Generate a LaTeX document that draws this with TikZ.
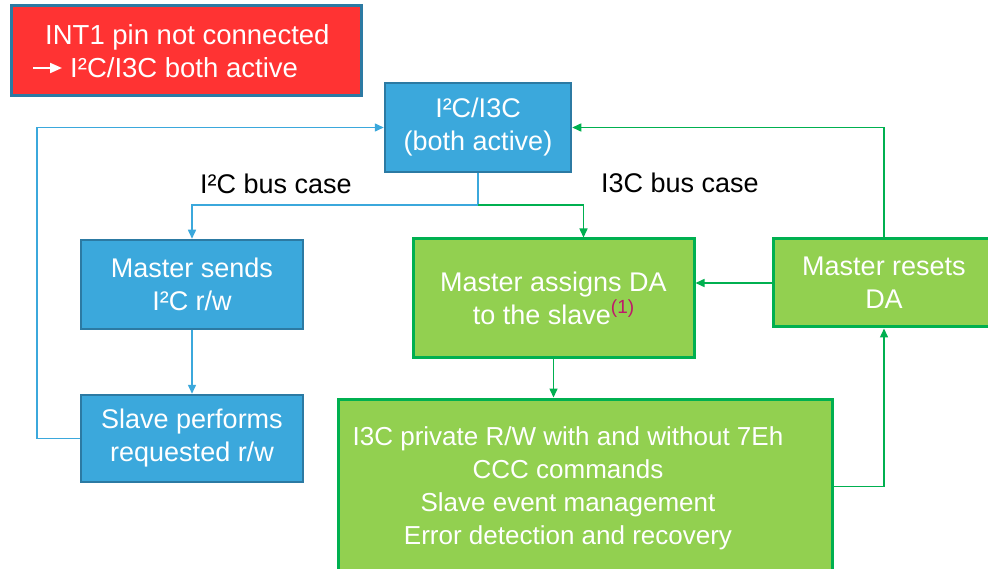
\documentclass[tikz,border=0pt]{standalone}
\usepackage{fontspec}
\setmainfont{Liberation Sans}
\usetikzlibrary{arrows.meta,calc}
\definecolor{bfill}{HTML}{3BA8DC}
\definecolor{bdraw}{HTML}{2C7AA3}
\definecolor{gfill}{HTML}{92D050}
\definecolor{gdraw}{HTML}{00B050}
\definecolor{rfill}{HTML}{FF3333}
\definecolor{supcol}{HTML}{C0186A}
\tikzset{
  box/.style={rectangle, inner sep=0pt, align=center, text=white,
    font=\fontsize{27}{33}\selectfont},
  bluebox/.style={box, fill=bfill, draw=bdraw, line width=2.5pt},
  greenbox/.style={box, fill=gfill, draw=gdraw, line width=3pt},
  bline/.style={draw=bfill, line width=1.5pt, -{Triangle[length=9pt,width=8pt]}},
  gline/.style={draw=gdraw, line width=1.5pt, -{Triangle[length=9pt,width=8pt]}},
  lbl/.style={font=\fontsize{27}{33}\selectfont, text=black, inner sep=0pt},
  redline/.style={box, anchor=base west, font=\fontsize{27.5}{33}\selectfont}
}
\begin{document}
\begin{tikzpicture}[x=1pt,y=-1pt]
\useasboundingbox (0,0) rectangle (988,569);
\clip (0,0) rectangle (988,569);
\fill[white] (0,0) rectangle (988,569);
% red note
\node[box, fill=rfill, draw=bdraw, line width=3pt, minimum width=350pt, minimum height=90pt] (red) at (186,51) {};
\node[redline] (red1) at (45,45) {INT1 pin not connected};
\node[redline] (red2) at (70,78) {I²C/I3C both active};
\draw[white, line width=2pt, -{Triangle[length=12pt,width=10pt]}] (33,68) -- (62,68);
% boxes
\node[bluebox, minimum width=186pt, minimum height=89pt] (top) at (478,127.5) {I²C/I3C\\(both active)};
\node[bluebox, minimum width=222pt, minimum height=89pt] (ms) at (192,284.5) {Master sends\\I²C r/w};
\node[bluebox, minimum width=222pt, minimum height=87pt] (sp) at (192,438.5) {Slave performs\\requested r/w};
\node[greenbox, minimum width=281pt, minimum height=118pt] (ma) at (553.5,298) {Master assigns DA\\to the slave\raisebox{11pt}{\textcolor{supcol}{\fontsize{19}{19}\selectfont(1)}}};
\node[greenbox, minimum width=222pt, minimum height=88pt] (mr) at (884,283) {Master resets\\DA};
\node[greenbox, minimum width=494pt, minimum height=181pt] (bot) at (585,489.5) {};
\node[box, font=\fontsize{26}{33}\selectfont] (bottxt) at (568,488) {I3C private R/W with and without 7Eh\\CCC commands\\Slave event management\\Error detection and recovery};
% labels
\node[lbl] (l1) at (276,184) {I²C bus case};
\node[lbl] (l2) at (680,183) {I3C bus case};
% connectors
\coordinate (split) at (478,205);
\draw[bline] (top.south) -- (split) -| (ms.north);
\draw[gline] (split) -| ([xshift=30pt]ma.north);
\draw[bline] (ms.south) -- (sp.north);
\draw[bline] (sp.west) -- ++(-43,0) |- (top.west);
\draw[gline] (mr.north) |- (top.east);
\draw[gline] (mr.west) -- (mr.west -| ma.east);
\draw[gline] (ma.south) -- (ma.south |- bot.north);
\draw[gline] ([yshift=3pt]bot.east) -| (mr.south);
\end{tikzpicture}
\end{document}
